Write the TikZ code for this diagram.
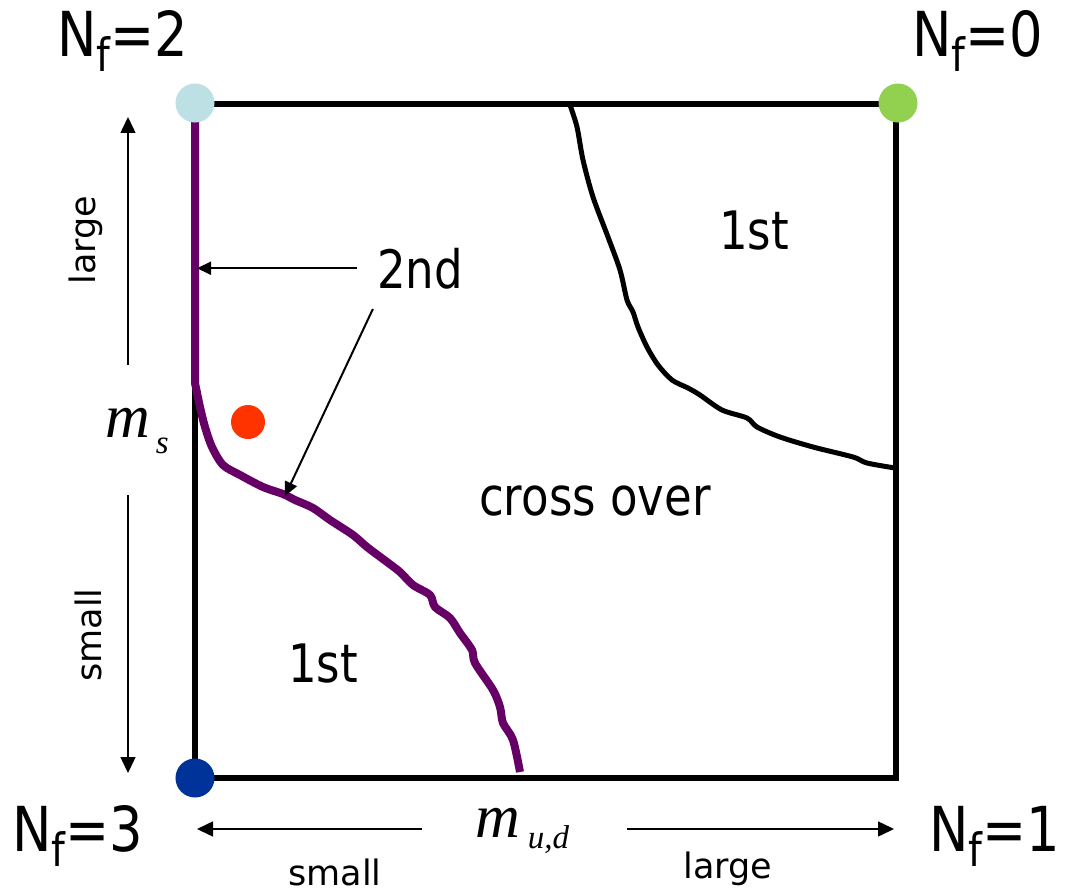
\documentclass[tikz,border=0pt]{standalone}
\usepackage{fontspec}
\setmainfont{DejaVu Sans}
\newfontfamily\bigfont[FakeStretch=0.85]{DejaVu Sans}
\newfontfamily\varfont{Liberation Serif}
\usetikzlibrary{arrows.meta}
\definecolor{nftwo}{RGB}{189,224,228}
\definecolor{nfzero}{RGB}{146,208,80}
\definecolor{nfthree}{RGB}{0,51,153}
\definecolor{phys}{RGB}{255,51,0}
\definecolor{crit}{RGB}{102,0,102}

\tikzset{
  nflabel/.style={inner sep=0pt, anchor=base, font=\bigfont\fontsize{62}{70}\selectfont},
  region/.style={inner sep=0pt, anchor=base, font=\bigfont\fontsize{53}{60}\selectfont},
  axistxt/.style={inner sep=0pt, font=\fontsize{35}{40}\selectfont},
  masslabel/.style={inner sep=0pt, anchor=base west},
  corner/.style={draw=white, line width=3pt},
  axisarrow/.style={line width=1.5pt, -{Triangle[length=16pt,width=15pt]}},
  pointer/.style={line width=2pt, -{Triangle[length=14pt,width=13pt]}}
}
\newcommand{\nf}[1]{N\raisebox{-15pt}{\fontsize{46}{50}\selectfont f}=#1}

\begin{document}
\begin{tikzpicture}[x=1pt,y=-1pt]
\useasboundingbox (0,0) rectangle (1065,893);

% Box
\draw[line width=6pt] (195,104) rectangle (895.5,777.5);

% Second order line (left edge + curve)
\draw[crit, line width=8pt] (195,121) -- (195,383)
  -- plot[smooth, tension=0.5] coordinates {
  (195,383) (200,407) (205,427) (212,447) (223,465) (240,475) (263,487)
  (283,494) (295,500) (313,508) (330,520) (353,535) (367,547) (387,562)
  (400,572) (413,585) (430,595) (435,607) (450,618) (460,633) (472,650)
  (475,663) (493,690) (500,707) (503,723) (513,740) (520,772)};

% First order boundary, top right
\draw[line width=5pt] plot[smooth, tension=0.5] coordinates {
  (570,105) (577,127) (583,160) (593,197) (608,237) (620,270) (627,300)
  (633,312) (638,327) (647,347) (658,365) (672,380) (688,388) (700,395)
  (722,410) (747,418) (757,427) (780,437) (813,447) (853,457) (867,463)
  (895,468)};

% Corner points
\fill[corner, nftwo] (195,103) circle (18);
\fill[corner, nfzero] (898,103) circle (18);
\fill[corner, nfthree] (195,778) circle (18);
\fill[phys] (248,422) circle (17);

% Corner labels
\node[nflabel] (nf2) at (123,57) {\nf{2}};
\node[nflabel] (nf0) at (978,57) {\nf{0}};
\node[nflabel] (nf3) at (78,851) {\nf{3}};
\node[nflabel] (nf1) at (995,851) {\nf{1}};

% Regions
\node[region] (first1) at (754,250) {1st};
\node[region] (first2) at (323,682) {1st};
\node[region] (cross) at (595,515) {cross over};
\node[region, inner sep=20pt] (second) at (420,288) {2nd};

% Pointers to second order lines
\coordinate (edgept) at (197,272);
\coordinate (curvept) at (285,496);
\draw[pointer] (second.west) -- (second.west -| edgept);
\draw[pointer] ([xshift=16pt]second.south west) -- (curvept);

% Mass axes
\node[masslabel] (ms) at (105,437)
  {\varfont\itshape\fontsize{62}{70}\selectfont m\hspace{6pt}\raisebox{-16pt}{\fontsize{33}{40}\selectfont s}};
\node[masslabel] (mud) at (475,837)
  {\varfont\itshape\fontsize{62}{70}\selectfont m\hspace{8pt}\raisebox{-11pt}{\fontsize{33}{40}\selectfont u,d}};

\coordinate (ltop) at (128,365);
\coordinate (ltip) at (128,117);
\coordinate (sbot) at (128,495);
\coordinate (stip) at (128,773);
\draw[axisarrow] (ltop) -- (ltip);
\draw[axisarrow] (sbot) -- (stip);
\node[axistxt, rotate=90] (vlarge) at (86,240) {large};
\node[axistxt, rotate=90] (vsmall) at (88,635) {small};

\coordinate (bl) at (422,829);
\coordinate (bltip) at (197,829);
\coordinate (br) at (627,829);
\coordinate (brtip) at (894,829);
\draw[axisarrow] (bl) -- (bltip);
\draw[axisarrow] (br) -- (brtip);
\node[axistxt, anchor=base] (hsmall) at (335,885) {small};
\node[axistxt, anchor=base] (hlarge) at (728,878) {large};

\end{tikzpicture}
\end{document}
